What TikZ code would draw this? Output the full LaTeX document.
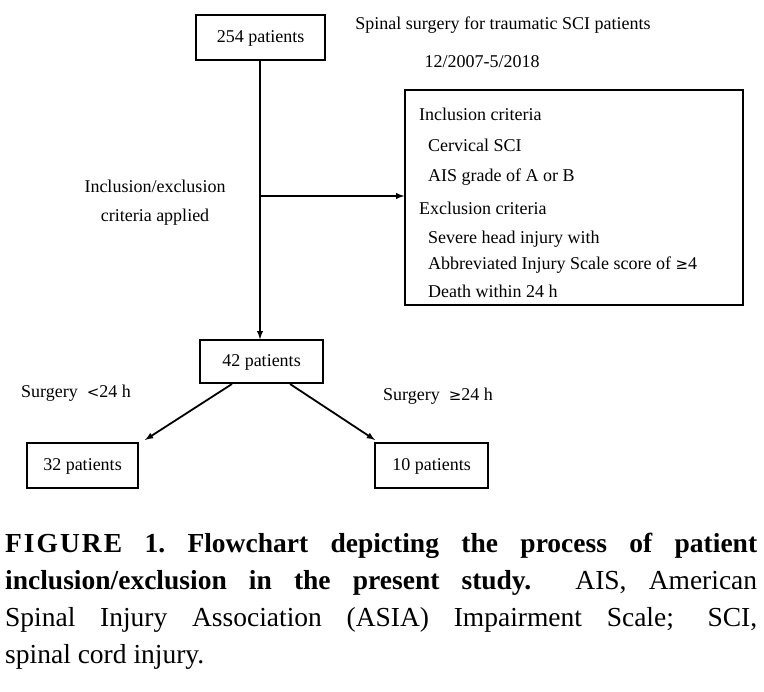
\documentclass[tikz,border=0pt]{standalone}
\usepackage{fontspec}
\setmainfont{Liberation Serif}
\newfontfamily\symf{DejaVu Sans}
\begin{document}
\begin{tikzpicture}[x=1pt,y=-1pt,
  box/.style={draw,line width=1.5pt,inner sep=0pt},
  lab/.style={font=\fontsize{18}{20}\selectfont,inner sep=0pt},
  arr/.style={-latex,line width=1.8pt}]
\useasboundingbox (0,0) rectangle (764,692);
\node[box,minimum width=129,minimum height=45] (a) at (260.5,37.5) {};
\node[lab] at (260.5,38) {254 patients};
\node[lab] (t1) at (503,25) {Spinal surgery for traumatic SCI patients};
\node[lab] (t2) at (482,62) {12/2007-5/2018};
\node[box,minimum width=338,minimum height=215] (c) at (574,197.5) {};
\node[lab,anchor=west] (c1) at (419,114) {Inclusion criteria};
\node[lab,anchor=west] (c2) at (428,145) {Cervical SCI};
\node[lab,anchor=west] (c3) at (428,177) {AIS grade of A or B};
\node[lab,anchor=west] (c4) at (419,208) {Exclusion criteria};
\node[lab,anchor=west] (c5) at (428,239) {Severe head injury with};
\node[lab,anchor=west] (c6) at (428,265) {Abbreviated Injury Scale score of {\symf\fontsize{15}{15}\selectfont ≥}4};
\node[lab,anchor=west] (c7) at (428,291) {Death within 24 h};
\node[lab] (l1) at (155,186) {Inclusion/exclusion};
\node[lab] (l2) at (155,217) {criteria applied};
\node[box,minimum width=123,minimum height=43] (b) at (261.5,361.5) {};
\node[lab] at (261.5,362) {42 patients};
\node[box,minimum width=111,minimum height=45] (d) at (82.5,465.5) {};
\node[lab] at (82.5,466) {32 patients};
\node[box,minimum width=113,minimum height=45] (e) at (431.5,465.5) {};
\node[lab] at (431.5,466) {10 patients};
\node[lab] (s1) at (76,393) {Surgery \ {\symf\fontsize{15}{15}\selectfont <}24 h};
\node[lab] (s2) at (438,396) {Surgery \ {\symf\fontsize{15}{15}\selectfont ≥}24 h};
\coordinate (m) at (260,196);
\draw[arr] (a.south -| 260,0) -- (b.north -| 260,0);
\draw[arr] (m) -- (c.west |- m);
\draw[arr] (232,384) -- (145,440);
\draw[arr] (290,384) -- (375,440);
\node[anchor=north west,text width=752,align=justify,inner sep=0pt,
  font=\fontsize{27.5}{37}\selectfont] (cap) at (5,533)
 {\hyphenpenalty=10000\textbf{F\kern2pt I\kern2pt G\kern2pt U\kern2pt R\kern2pt E\ 1.\ Flowchart depicting the process of patient\linebreak inclusion/exclusion in the present study.}\ \ AIS, American\linebreak Spinal Injury Association (ASIA) Impairment Scale; SCI,\linebreak spinal cord injury.};
\end{tikzpicture}
\end{document}
